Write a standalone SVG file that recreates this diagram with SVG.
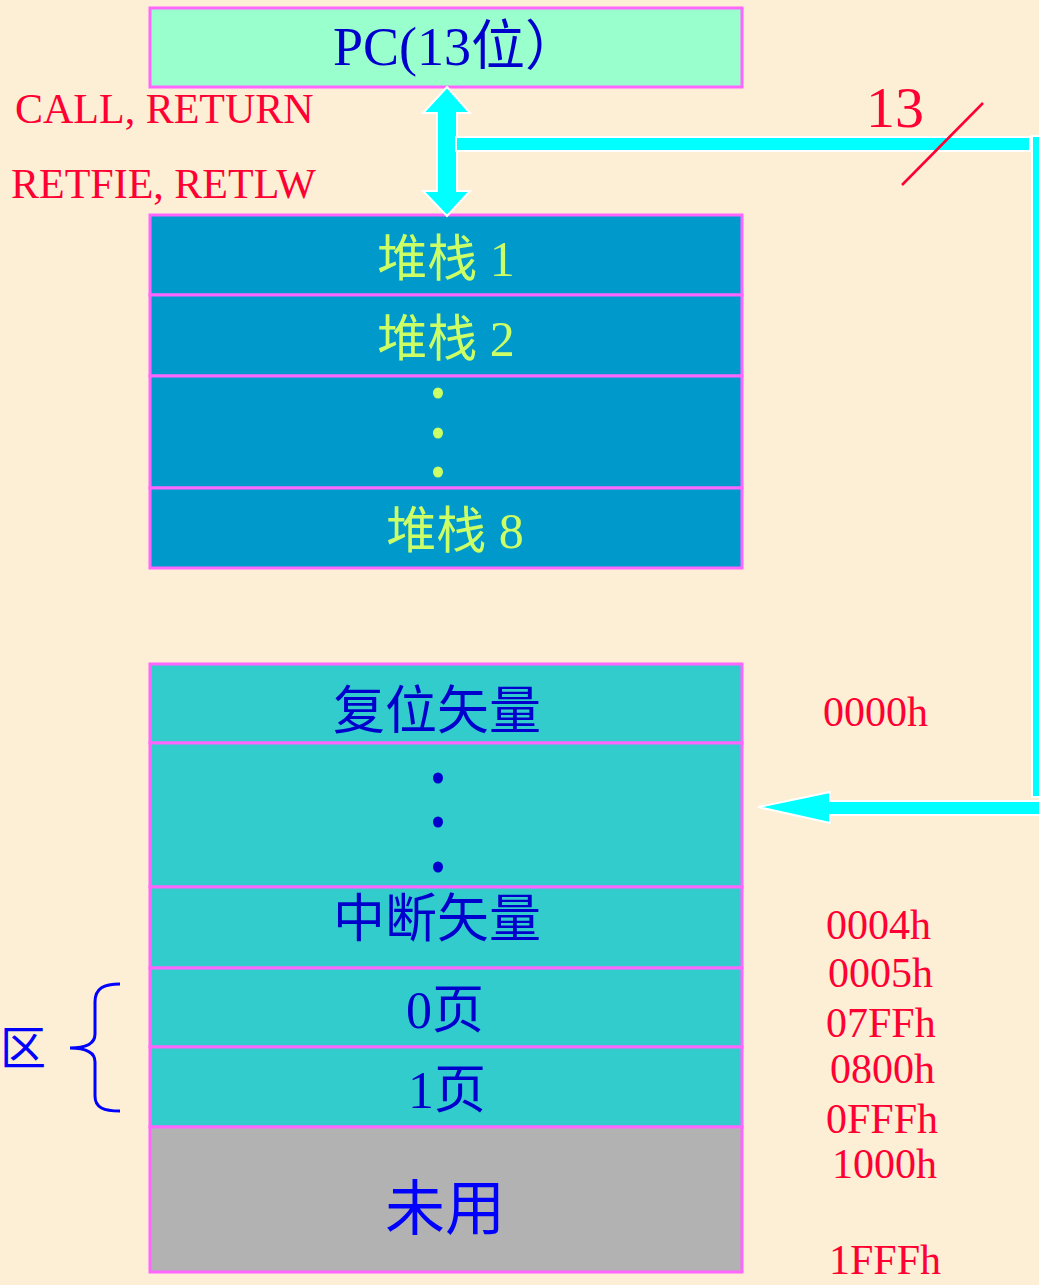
<svg xmlns="http://www.w3.org/2000/svg" width="1039" height="1285" viewBox="0 0 1039 1285">
  <style>
    .box { stroke: #ff66ff; stroke-width: 3; }
    .pc { fill: #99ffcc; }
    .stk { fill: #0099cc; }
    .mem { fill: #33cccc; }
    .unused { fill: #b2b2b2; }
    .lat { font-family: "Liberation Serif", "Noto Sans CJK SC", serif; }
    .stxt { fill: #ccff66; font-size: 50px; text-anchor: middle; }
    .mtxt { fill: #0000cc; font-size: 52px; text-anchor: middle; }
    .red { fill: #ff0033; font-size: 42px; }
    .bus { fill: #00ffff; stroke: #ffffff; stroke-width: 2; }
  </style>
  <rect x="0" y="0" width="1039" height="1285" fill="#fcefd5"/>

  <g id="pc">
    <rect class="box pc" x="150" y="8" width="592" height="79"/>
    <text class="lat" x="333" y="65" font-size="54" fill="#0000cc">PC(13位）</text>
  </g>

  <g id="stack1">
    <rect class="box stk" x="150" y="215" width="592" height="80"/>
    <text class="lat stxt" x="446" y="276">堆栈 1</text>
  </g>
  <g id="stack2">
    <rect class="box stk" x="150" y="295" width="592" height="81"/>
    <text class="lat stxt" x="446" y="356">堆栈 2</text>
  </g>
  <g id="stack-dots">
    <rect class="box stk" x="150" y="376" width="592" height="112"/>
    <ellipse cx="438" cy="393" rx="5" ry="5.5" fill="#ccff66"/>
    <ellipse cx="438" cy="433" rx="5" ry="5.5" fill="#ccff66"/>
    <ellipse cx="438" cy="472" rx="5" ry="5.5" fill="#ccff66"/>
  </g>
  <g id="stack8">
    <rect class="box stk" x="150" y="488" width="592" height="80"/>
    <text class="lat stxt" x="455" y="548">堆栈 8</text>
  </g>

  <g id="reset">
    <rect class="box mem" x="150" y="664" width="592" height="79"/>
    <text class="lat mtxt" x="437" y="729">复位矢量</text>
  </g>
  <g id="mem-dots">
    <rect class="box mem" x="150" y="743" width="592" height="144"/>
    <ellipse cx="438" cy="778" rx="5" ry="5.5" fill="#0000cc"/>
    <ellipse cx="438" cy="822" rx="5" ry="5.5" fill="#0000cc"/>
    <ellipse cx="438" cy="867" rx="5" ry="5.5" fill="#0000cc"/>
  </g>
  <g id="interrupt">
    <rect class="box mem" x="150" y="887" width="592" height="81"/>
    <text class="lat mtxt" x="437" y="937">中断矢量</text>
  </g>
  <g id="page0">
    <rect class="box mem" x="150" y="968" width="592" height="79"/>
    <text class="lat mtxt" x="445" y="1028">0页</text>
  </g>
  <g id="page1">
    <rect class="box mem" x="150" y="1047" width="592" height="80"/>
    <text class="lat mtxt" x="447" y="1108">1页</text>
  </g>
  <g id="unused">
    <rect class="box unused" x="150" y="1127" width="592" height="145"/>
    <text class="lat" x="445" y="1230" font-size="60" text-anchor="middle" fill="#0000ff">未用</text>
  </g>

  <g id="labels">
    <text class="lat red" x="15" y="123">CALL, RETURN</text>
    <text class="lat red" x="11" y="198">RETFIE, RETLW</text>
    <text class="lat" x="866" y="127" font-size="58" fill="#ff0033">13</text>
    <text class="lat red" x="823" y="726">0000h</text>
    <text class="lat red" x="826" y="939">0004h</text>
    <text class="lat red" x="828" y="987">0005h</text>
    <text class="lat red" x="826" y="1037">07FFh</text>
    <text class="lat red" x="830" y="1083">0800h</text>
    <text class="lat red" x="826" y="1133">0FFFh</text>
    <text class="lat red" x="832" y="1178">1000h</text>
    <text class="lat red" x="829" y="1274">1FFFh</text>
  </g>

  <g id="program-area">
    <text class="lat" x="0" y="1064" font-size="46" fill="#0000ff">区</text>
    <path d="M120,984 C104,984 95,988 95,1002 L95,1034 C95,1044 86,1048 70,1048 C86,1048 95,1052 95,1062 L95,1096 C95,1108 104,1111 120,1111" fill="none" stroke="#0000ff" stroke-width="3"/>
  </g>

  <g id="connectors">
    <polygon class="bus" points="447,87 470,113 457,113 457,191 470,191 447,216 423,191 437,191 437,113 423,113"/>
    <rect class="bus" x="456" y="137" width="574" height="14"/>
    <rect class="bus" x="1032" y="136" width="9" height="661"/>
    <polygon class="bus" points="758,807 830,792 830,801 1041,801 1041,815 830,815 830,823"/>
    <line x1="983" y1="103" x2="902" y2="185" stroke="#ff0033" stroke-width="2.5"/>
  </g>
</svg>
